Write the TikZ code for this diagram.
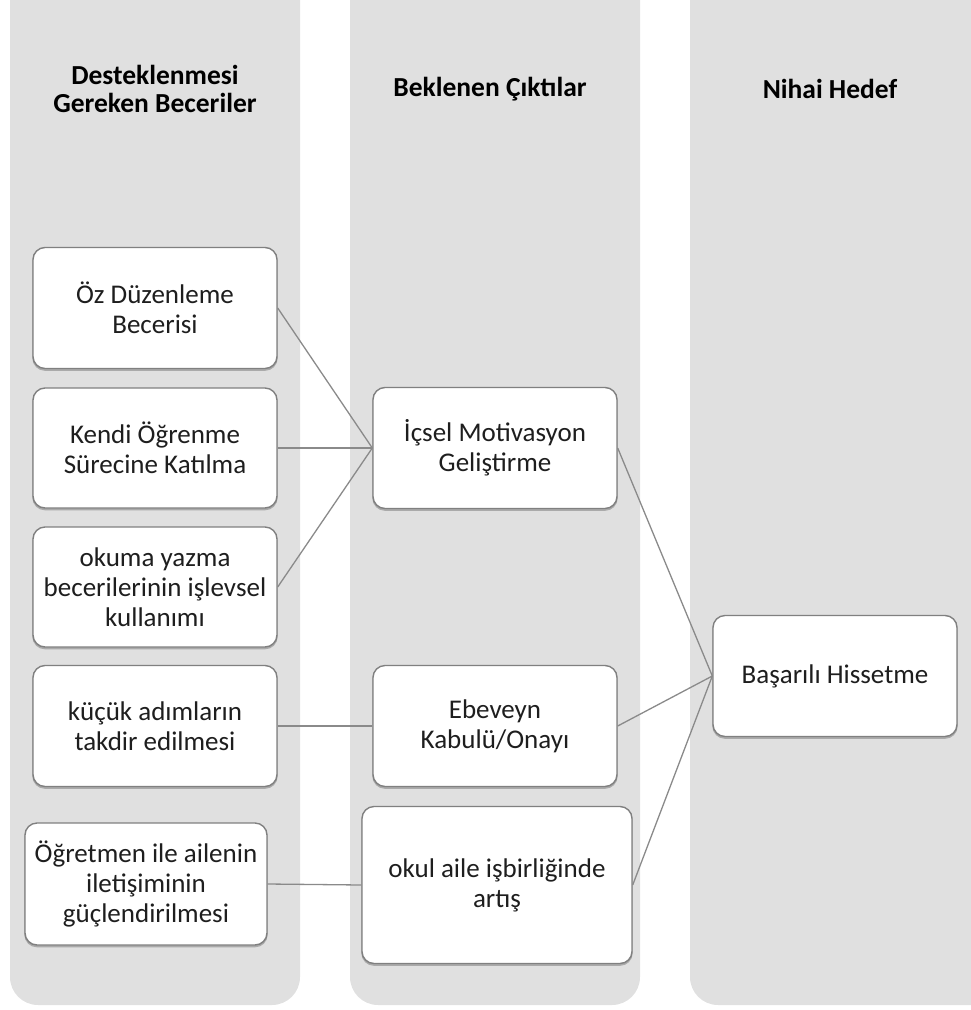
\documentclass[tikz,border=0pt]{standalone}
\usepackage{fontspec}
\setmainfont{Carlito}
\begin{document}
\begin{tikzpicture}[x=1pt,y=-1pt,
  lane/.style={fill=laneGray,draw=none},
  card/.style={draw=cardEdge,line width=1.4pt,fill=white,rounded corners=12pt,
    align=center,inner sep=0pt,text=inkText,
    font=\fontsize{27}{30}\selectfont,
    preaction={draw=shadowGray,fill=shadowGray,line width=1.4pt,transform canvas={yshift=-1.6pt}}},
  head/.style={align=center,text=black,font=\bfseries\fontsize{27.5}{28.5}\selectfont},
  link/.style={draw=linkGray,line width=1.3pt}]
\definecolor{laneGray}{RGB}{224,224,224}
\definecolor{cardEdge}{RGB}{128,128,128}
\definecolor{shadowGray}{RGB}{170,170,170}
\definecolor{linkGray}{RGB}{138,138,138}
\definecolor{inkText}{RGB}{30,30,30}
\useasboundingbox (0,0) rectangle (971,1010);
\begin{scope}
\clip (0,0) rectangle (971,1010);
% three swim lanes with rounded lower corners
\fill[lane,rounded corners=28pt] (10,-40) rectangle (300,1005);
\fill[lane,rounded corners=28pt] (350,-40) rectangle (640,1005);
\fill[lane,rounded corners=28pt] (690,-40) rectangle (1010,1005);
\end{scope}
% lane headings
\node[head] (h1) at (155,89) {Desteklenmesi\\Gereken Beceriler};
\node[head] (h2) at (490,89) {Beklenen Çıktılar};
\node[head] (h3) at (830,89) {Nihai Hedef};
% skills
\node[card,minimum width=244pt,minimum height=121pt] (oz) at (155,308) {Öz Düzenleme\\Becerisi};
\node[card,minimum width=244pt,minimum height=120pt] (kendi) at (155,448) {Kendi Öğrenme\\Sürecine Katılma};
\node[card,minimum width=244pt,minimum height=120pt] (okuma) at (155,587) {okuma yazma\\becerilerinin işlevsel\\kullanımı};
\node[card,minimum width=244pt,minimum height=121pt] (kucuk) at (155,726) {küçük adımların\\takdir edilmesi};
\node[card,minimum width=242pt,minimum height=122pt] (ogret) at (146,884) {Öğretmen ile ailenin\\iletişiminin\\güçlendirilmesi};
% outcomes
\node[card,minimum width=244pt,minimum height=121pt] (icsel) at (495,448) {İçsel Motivasyon\\Geliştirme};
\node[card,minimum width=244pt,minimum height=121pt] (ebev) at (495,726) {Ebeveyn\\Kabulü/Onayı};
\node[card,minimum width=270pt,minimum height=157pt] (okul) at (497,885) {okul aile işbirliğinde\\artış};
% final goal
\node[card,minimum width=244pt,minimum height=121pt] (basar) at (835,676) {Başarılı Hissetme};
% connectors
\draw[link] (oz.east) -- (icsel.west);
\draw[link] (kendi.east) -- (icsel.west);
\draw[link] (okuma.east) -- (icsel.west);
\draw[link] (kucuk.east) -- (ebev.west);
\draw[link] (ogret.east) -- (okul.west);
\draw[link] (icsel.east) -- (basar.west);
\draw[link] (ebev.east) -- (basar.west);
\draw[link] (okul.east) -- (basar.west);
\end{tikzpicture}
\end{document}
